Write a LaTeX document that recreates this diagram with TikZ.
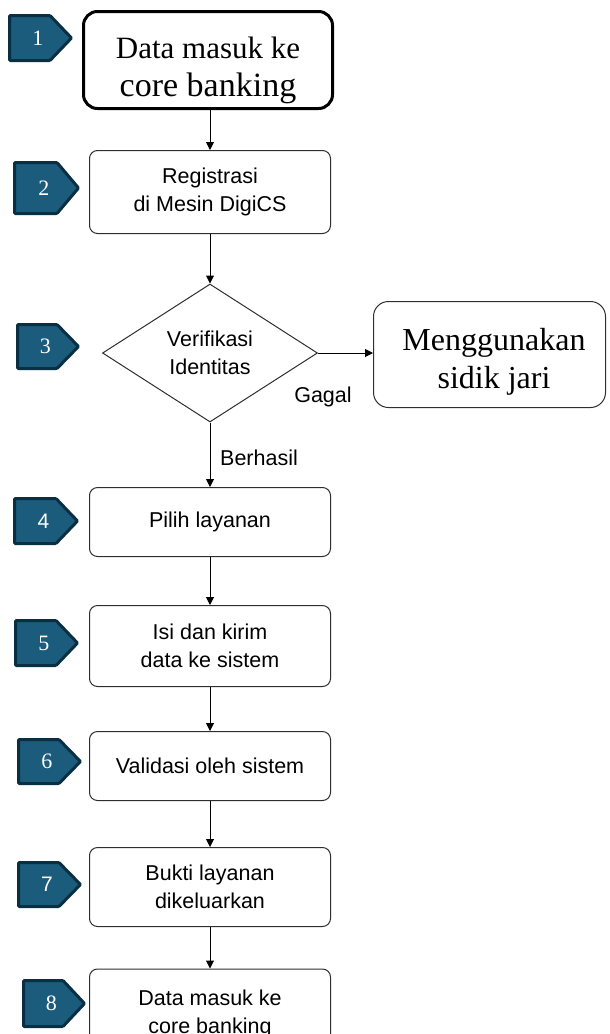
\documentclass[tikz,border=0pt]{standalone}
\usepackage{fontspec}
\setmainfont{Liberation Serif}
\setsansfont{Liberation Sans}
\usetikzlibrary{shapes.geometric,arrows.meta}
\definecolor{badgefill}{HTML}{1B5B7C}
\definecolor{badgeedge}{HTML}{0B2F42}
\definecolor{boxedge}{HTML}{2E2E2E}
% name, left, top, right, bottom, text, font
\newcommand\mybadge[7]{%
  \draw[badgeshape] (#2+1.5,#3+1.5) -- (#4-23,#3+1.5) -- (#4-1.5,{(#3+#5)/2}) -- (#4-23,#5-1.5) -- (#2+1.5,#5-1.5) -- cycle;
  \node[badgenum, font=#7] (#1) at ({#2+0.46*(#4-#2)},{(#3+#5)/2}) {#6};}
\begin{document}
\begin{tikzpicture}[x=1pt,y=-1pt,
  badgeshape/.style={fill=badgefill, draw=badgeedge, line width=3pt, rounded corners=1pt},
  badgenum/.style={inner sep=0pt, text=white},
  procbox/.style={draw=boxedge, line width=1pt, rounded corners=8pt, minimum width=241pt,
    inner sep=0pt, align=center, font=\sffamily\fontsize{21.5}{28}\selectfont},
  serifline/.style={anchor=base, inner sep=0pt, font=\fontsize{31}{31}\selectfont},
  lbl/.style={inner sep=0pt, font=\sffamily\fontsize{21.5}{21.5}\selectfont},
  arr/.style={draw=black, line width=1pt, -{Triangle[length=8pt,width=8pt]}}
]
\useasboundingbox (0,0) rectangle (610,1034);
\clip (0,0) rectangle (610,1034);

% step 1
\node[draw=black, line width=3pt, rounded corners=14pt, minimum width=249pt, minimum height=97pt, inner sep=0pt] (b1) at (208,60) {};
\node[serifline] (t1a) at (208,58) {Data masuk ke};
\node[serifline, font=\fontsize{34}{34}\selectfont] (t1b) at (208,96) {core banking};

% step 2
\node[procbox, minimum height=83pt] (b2) at (210,192) {Registrasi\\di Mesin DigiCS};

% step 3
\node[diamond, draw=boxedge, line width=1pt, minimum width=215pt, minimum height=138pt, inner sep=0pt,
  align=center, font=\sffamily\fontsize{21.5}{28}\selectfont] (d3) at (210,353) {Verifikasi\\Identitas};
\node[draw=boxedge, line width=1pt, rounded corners=15pt, minimum width=232pt, minimum height=106pt, inner sep=0pt] (s3) at (489.5,354.5) {};
\node[serifline, font=\fontsize{32}{32}\selectfont] (t3a) at (494,350) {Menggunakan};
\node[serifline, font=\fontsize{32}{32}\selectfont] (t3b) at (494,388) {sidik jari};
\node[lbl] (gagal) at (323,397) {Gagal};
\node[lbl] (berhasil) at (259,458) {Berhasil};

% steps 4-8
\node[procbox, minimum height=69pt] (b4) at (210,522) {Pilih layanan};
\node[procbox, minimum height=81pt] (b5) at (210,646) {Isi dan kirim\\data ke sistem};
\node[procbox, minimum height=69pt] (b6) at (210,766) {Validasi oleh sistem};
\node[procbox, minimum height=79pt] (b7) at (210,887) {Bukti layanan\\dikeluarkan};
\node[procbox, minimum height=90pt] (b8) at (210,1014) {Data masuk ke\\core banking};

% badges
\mybadge{n1}{8}{14}{73}{62}{1}{\fontsize{22}{22}\selectfont}
\mybadge{n2}{13}{161}{80}{215}{2}{\fontsize{22}{22}\selectfont}
\mybadge{n3}{16}{323}{80}{370}{3}{\fontsize{22}{22}\selectfont}
\mybadge{n4}{13}{497}{79}{545}{4}{\sffamily\fontsize{21}{21}\selectfont}
\mybadge{n5}{14}{619}{79}{667}{5}{\fontsize{22}{22}\selectfont}
\mybadge{n6}{17}{738}{82}{785}{6}{\fontsize{22}{22}\selectfont}
\mybadge{n7}{17}{861}{82}{908}{7}{\sffamily\fontsize{21}{21}\selectfont}
\mybadge{n8}{22}{979}{86}{1028}{8}{\fontsize{22}{22}\selectfont}

% connectors
\draw[arr] (b1.south -| b2.north) -- (b2.north);
\draw[arr] (b2.south) -- (d3.north);
\draw[arr] (d3.east) -- (s3.west |- d3.east);
\draw[arr] (d3.south) -- (b4.north);
\draw[arr] (b4.south) -- (b5.north);
\draw[arr] (b5.south) -- (b6.north);
\draw[arr] (b6.south) -- (b7.north);
\draw[arr] (b7.south) -- (b8.north);
\end{tikzpicture}
\end{document}
